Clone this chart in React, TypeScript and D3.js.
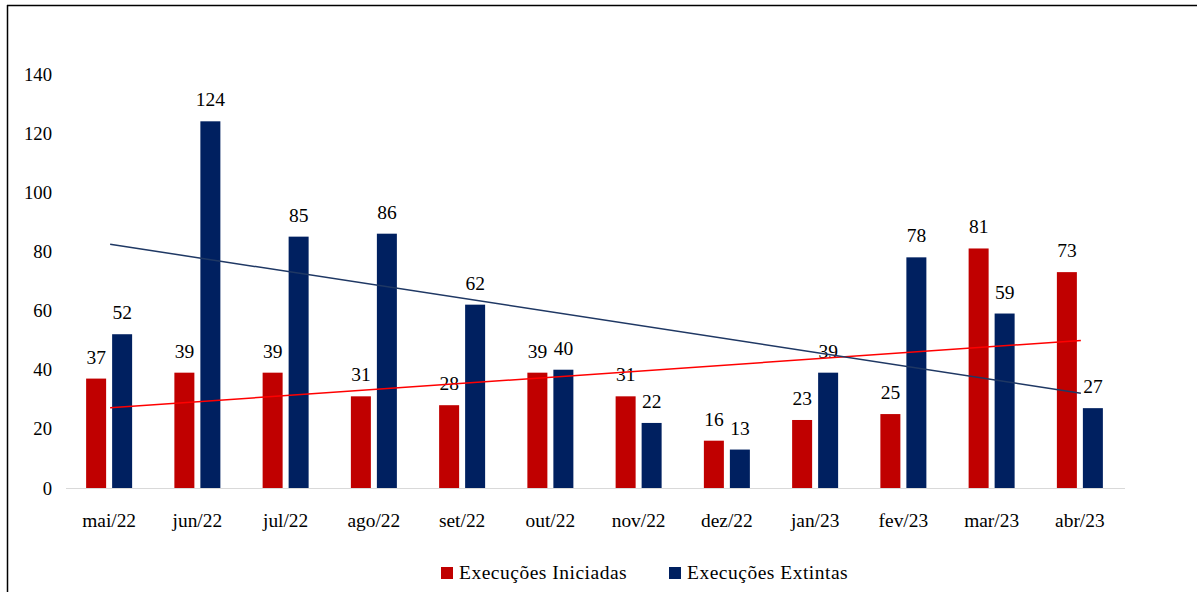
import React, { useEffect, useRef } from "react";
import * as d3 from "d3";

const categories = ["mai/22", "jun/22", "jul/22", "ago/22", "set/22", "out/22", "nov/22", "dez/22", "jan/23", "fev/23", "mar/23", "abr/23"];
const iniciadas = [37, 39, 39, 31, 28, 39, 31, 16, 23, 25, 81, 73];
const extintas = [52, 124, 85, 86, 62, 40, 22, 13, 39, 78, 59, 27];
const yTicks = [0, 20, 40, 60, 80, 100, 120, 140];
const seriesNames = ["Execuções Iniciadas", "Execuções Extintas"];
const colors = ["#C00000", "#002060"];
const trendColors = ["#FF0000", "#1F3864"];

function regression(vals: number[]) {
  const n = vals.length;
  const xs = vals.map((_, i) => i + 1);
  const mx = d3.mean(xs)!;
  const my = d3.mean(vals)!;
  let sxy = 0, sxx = 0;
  xs.forEach((x, i) => { sxy += (x - mx) * (vals[i] - my); sxx += (x - mx) ** 2; });
  const b = sxy / sxx;
  const a = my - b * mx;
  return [a + b * 1, a + b * n];
}

export default function App() {
  const ref = useRef<SVGSVGElement>(null);
  useEffect(() => {
    const svg = d3.select(ref.current);
    svg.selectAll("*").remove();
    const font = "'Liberation Serif', 'Times New Roman', serif";

    // frame
    svg.append("line").attr("x1", 7.5).attr("x2", 7.5).attr("y1", 5).attr("y2", 600).attr("stroke", "#000").attr("stroke-width", 1.5);
    svg.append("line").attr("x1", 7).attr("x2", 1197).attr("y1", 5.5).attr("y2", 5.5).attr("stroke", "#000").attr("stroke-width", 1.5);

    const x = d3.scaleBand().domain(categories).range([66, 1125]);
    const y = d3.scaleLinear().domain([0, 140]).range([488, 74]);
    const barW = 20, gap = 6;

    // y tick labels
    svg.append("g").selectAll("text").data(yTicks).join("text")
      .attr("x", 52).attr("y", d => y(d)).attr("dy", "0.35em")
      .attr("text-anchor", "end").attr("font-family", font).attr("font-size", 18.7).attr("fill", "#000")
      .text(d => d);

    // baseline
    svg.append("line").attr("x1", 66).attr("x2", 1125).attr("y1", 488.5).attr("y2", 488.5).attr("stroke", "#D9D9D9").attr("stroke-width", 1);

    const series = [iniciadas, extintas];
    series.forEach((vals, s) => {
      const g = svg.append("g");
      const bx = (c: string) => x(c)! + x.bandwidth() / 2 + (s === 0 ? -gap / 2 - barW : gap / 2) - 1;
      g.selectAll("rect").data(vals).join("rect")
        .attr("x", (_, i) => bx(categories[i]))
        .attr("y", d => y(d)).attr("width", barW).attr("height", d => y(0) - y(d))
        .attr("fill", colors[s]);
      g.selectAll("text").data(vals).join("text")
        .attr("x", (_, i) => bx(categories[i]) + barW / 2)
        .attr("y", d => y(d) - 15)
        .attr("text-anchor", "middle").attr("font-family", font).attr("font-size", 19.5).attr("fill", "#000")
        .text(d => d);
    });

    // trendlines
    series.forEach((vals, s) => {
      const [y1, y2] = regression(vals);
      const xc = (i: number) => x(categories[i])! + x.bandwidth() / 2;
      svg.append("line")
        .attr("x1", xc(0)).attr("y1", y(y1))
        .attr("x2", xc(categories.length - 1)).attr("y2", y(y2))
        .attr("stroke", trendColors[s]).attr("stroke-width", 1.5);
    });

    // x labels
    svg.append("g").selectAll("text").data(categories).join("text")
      .attr("x", d => x(d)! + x.bandwidth() / 2 - 1).attr("y", 527)
      .attr("text-anchor", "middle").attr("font-family", font).attr("font-size", 19.4).attr("fill", "#000")
      .text(d => d);

    // legend
    const legendX = [441, 669];
    seriesNames.forEach((name, i) => {
      svg.append("rect").attr("x", legendX[i]).attr("y", 567).attr("width", 12).attr("height", 12).attr("fill", colors[i]);
      svg.append("text").attr("x", legendX[i] + 18).attr("y", 579)
        .attr("font-family", font).attr("font-size", 19.5).attr("letter-spacing", 0.5).attr("fill", "#000").text(name);
    });
  }, []);
  return (
    <svg ref={ref} width={1197} height={592} style={{ position: "absolute", left: 0, top: 0, background: "#fff" }} />
  );
}
